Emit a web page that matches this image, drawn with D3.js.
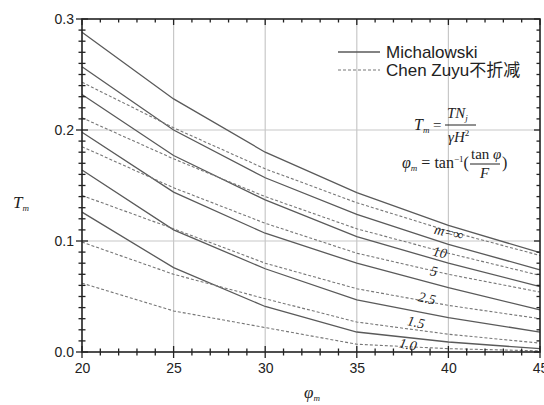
<!DOCTYPE html>
<html><head><meta charset="utf-8">
<script src="https://cdn.jsdelivr.net/npm/d3@7"></script>
<style>body{margin:0;background:#fff}</style></head>
<body><svg id="c" width="544" height="405"></svg>
<script>
// ---- data ----
const phi = [20, 25, 30, 35, 40, 45];
const mLabels = ["∞", "10", "5", "2.5", "1.5", "1.0"];
const michalowski = [
  [0.288, 0.228, 0.180, 0.1435, 0.114, 0.0895],
  [0.257, 0.200, 0.157, 0.124, 0.097, 0.074],
  [0.232, 0.177, 0.137, 0.104, 0.080, 0.059],
  [0.198, 0.144, 0.107, 0.080, 0.058, 0.038],
  [0.164, 0.110, 0.075, 0.047, 0.031, 0.018],
  [0.126, 0.076, 0.041, 0.018, 0.009, 0.003]
];
const chenZuyu = [
  [0.243, 0.202, 0.165, 0.1345, 0.109, 0.087],
  [0.211, 0.174, 0.140, 0.111, 0.089, 0.069],
  [0.185, 0.148, 0.116, 0.089, 0.070, 0.054],
  [0.141, 0.111, 0.080, 0.057, 0.042, 0.030],
  [0.099, 0.070, 0.048, 0.027, 0.016, 0.008],
  [0.062, 0.037, 0.022, 0.007, 0.003, 0.001]
];
const xTicks = [20, 25, 30, 35, 40, 45];
const yTicks = [0.0, 0.1, 0.2, 0.3];
const seriesNames = ["Michalowski", "Chen Zuyu不折减"];

// ---- layout ----
const L = 82, R = 540, T = 19, B = 352;
const labelPos = [[40.03, 0.108], [39.54, 0.090], [39.21, 0.073], [38.83, 0.0486], [38.23, 0.027], [37.8, 0.007]];

const svg = d3.select("#c");
const x = d3.scaleLinear().domain([20, 45]).range([L, R]);
const y = d3.scaleLinear().domain([0, 0.3]).range([B, T]);

// grid
const g = svg.append("g");
g.selectAll(".gx").data(xTicks.slice(1, -1)).join("line")
  .attr("x1", d => x(d)).attr("x2", d => x(d)).attr("y1", T).attr("y2", B)
  .attr("stroke", "#c8c8c8").attr("stroke-width", 1.2);
g.selectAll(".gy").data(yTicks.slice(1, -1)).join("line")
  .attr("x1", L).attr("x2", R).attr("y1", d => y(d)).attr("y2", d => y(d))
  .attr("stroke", "#c8c8c8").attr("stroke-width", 1.2);

// curves
const line = d3.line().x((d, i) => x(phi[i])).y(d => y(d));
svg.append("g").selectAll("path").data(michalowski).join("path")
  .attr("d", line).attr("fill", "none").attr("stroke", "#5a5a5a").attr("stroke-width", 1.3);
svg.append("g").selectAll("path").data(chenZuyu).join("path")
  .attr("d", line).attr("fill", "none").attr("stroke", "#777").attr("stroke-width", 1.1)
  .attr("stroke-dasharray", "3,2");

// frame
svg.append("rect").attr("x", L).attr("y", T).attr("width", R - L).attr("height", B - T)
  .attr("fill", "none").attr("stroke", "#222").attr("stroke-width", 1.6);

// ticks
const xMinor = d3.range(20, 45.01, 1);
const yMinor = d3.range(0, 0.3001, 0.01);
const tk = svg.append("g").attr("stroke", "#222").attr("stroke-width", 1.3);
xMinor.forEach(v => {
  const major = Math.abs(v % 5) < 1e-6;
  const s = major ? 6 : 3.5;
  tk.append("line").attr("x1", x(v)).attr("x2", x(v)).attr("y1", B - s).attr("y2", B + s);
  tk.append("line").attr("x1", x(v)).attr("x2", x(v)).attr("y1", T).attr("y2", T + s);
});
yMinor.forEach(v => {
  const major = Math.abs(Math.round(v * 100) % 10) === 0;
  const s = major ? 6 : 3.5;
  tk.append("line").attr("y1", y(v)).attr("y2", y(v)).attr("x1", L - s).attr("x2", L + s);
  tk.append("line").attr("y1", y(v)).attr("y2", y(v)).attr("x1", R - s).attr("x2", R);
});

// tick labels via axes
const ax = svg.append("g").attr("transform", `translate(0,${B})`)
  .call(d3.axisBottom(x).tickValues(xTicks).tickSize(0).tickPadding(11).tickFormat(d3.format("d")));
ax.select(".domain").remove();
ax.selectAll("text").attr("font-family", "Liberation Sans, Arial").attr("font-size", 14).attr("fill", "#222");
const ay = svg.append("g").attr("transform", `translate(${L},0)`)
  .call(d3.axisLeft(y).tickValues(yTicks).tickSize(0).tickPadding(8).tickFormat(d3.format(".1f")));
ay.select(".domain").remove();
ay.selectAll("text").attr("font-family", "Liberation Sans, Arial").attr("font-size", 14).attr("fill", "#222");

// axis titles
const serif = "Liberation Serif, Times New Roman, serif";
const yt = svg.append("text").attr("x", 13).attr("y", 208).attr("font-family", serif).attr("font-style", "italic").attr("font-size", 17).attr("fill", "#222");
yt.append("tspan").text("T");
yt.append("tspan").attr("font-size", 9).attr("dy", 3).text("m");
const xt = svg.append("text").attr("x", 304).attr("y", 398).attr("font-family", serif).attr("font-style", "italic").attr("font-size", 17).attr("fill", "#222");
xt.append("tspan").text("φ");
xt.append("tspan").attr("font-size", 9).attr("dy", 3).text("m");

// legend
const lg = svg.append("g");
[0, 1].forEach(i => {
  const ly = 52 + i * 18;
  lg.append("line").attr("x1", 338).attr("x2", 380).attr("y1", ly).attr("y2", ly)
    .attr("stroke", i ? "#777" : "#5a5a5a").attr("stroke-width", i ? 1.1 : 1.3)
    .attr("stroke-dasharray", i ? "3,2" : null);
  lg.append("text").attr("x", 386).attr("y", ly + 6).attr("font-family", "Liberation Sans, Arial, Noto Sans CJK SC")
    .attr("font-size", 17).attr("fill", "#222").text(seriesNames[i]);
});

// curve labels
svg.append("g").selectAll("text").data(mLabels).join("text")
  .attr("transform", (d, i) => `translate(${x(labelPos[i][0])},${y(labelPos[i][1])}) rotate(12)`)
  .attr("text-anchor", "middle").attr("dy", "0.35em")
  .attr("font-family", serif).attr("font-style", "italic").attr("font-size", 14).attr("fill", "#222")
  .text((d, i) => i === 0 ? "m=" + d : d);

// formulas
const f = svg.append("g").attr("font-family", serif).attr("fill", "#222");
const t1 = f.append("text").attr("x", 414).attr("y", 130).attr("font-size", 16).attr("font-style", "italic");
t1.append("tspan").text("T");
t1.append("tspan").attr("font-size", 9).attr("dy", 3).text("m");
f.append("text").attr("x", 433).attr("y", 130).attr("font-size", 15).text("=");
const n1 = f.append("text").attr("x", 447).attr("y", 118).attr("font-size", 15).attr("font-style", "italic");
n1.append("tspan").text("TN");
n1.append("tspan").attr("font-size", 9).attr("dy", 3).text("j");
f.append("line").attr("x1", 445).attr("x2", 476).attr("y1", 125).attr("y2", 125).attr("stroke", "#222").attr("stroke-width", 1);
const d1 = f.append("text").attr("x", 448).attr("y", 142).attr("font-size", 15).attr("font-style", "italic");
d1.append("tspan").text("γH");
d1.append("tspan").attr("font-size", 9).attr("dy", -6).attr("font-style", "normal").text("2");

const t2 = f.append("text").attr("x", 402).attr("y", 168).attr("font-size", 16);
t2.append("tspan").attr("font-style", "italic").text("φ");
t2.append("tspan").attr("font-size", 9).attr("dy", 3).attr("font-style", "italic").text("m");
t2.append("tspan").attr("dy", -3).text(" = tan");
t2.append("tspan").attr("font-size", 9).attr("dy", -6).text("−1");
t2.append("tspan").attr("dy", 6).text("(");
f.append("text").attr("x", 471).attr("y", 159).attr("font-size", 15).text("tan ").append("tspan").attr("font-style", "italic").text("φ");
f.append("line").attr("x1", 470).attr("x2", 500).attr("y1", 164).attr("y2", 164).attr("stroke", "#222").attr("stroke-width", 1);
f.append("text").attr("x", 480).attr("y", 178).attr("font-size", 15).attr("font-style", "italic").text("F");
f.append("text").attr("x", 502).attr("y", 168).attr("font-size", 16).text(")");
</script>
</body></html>
